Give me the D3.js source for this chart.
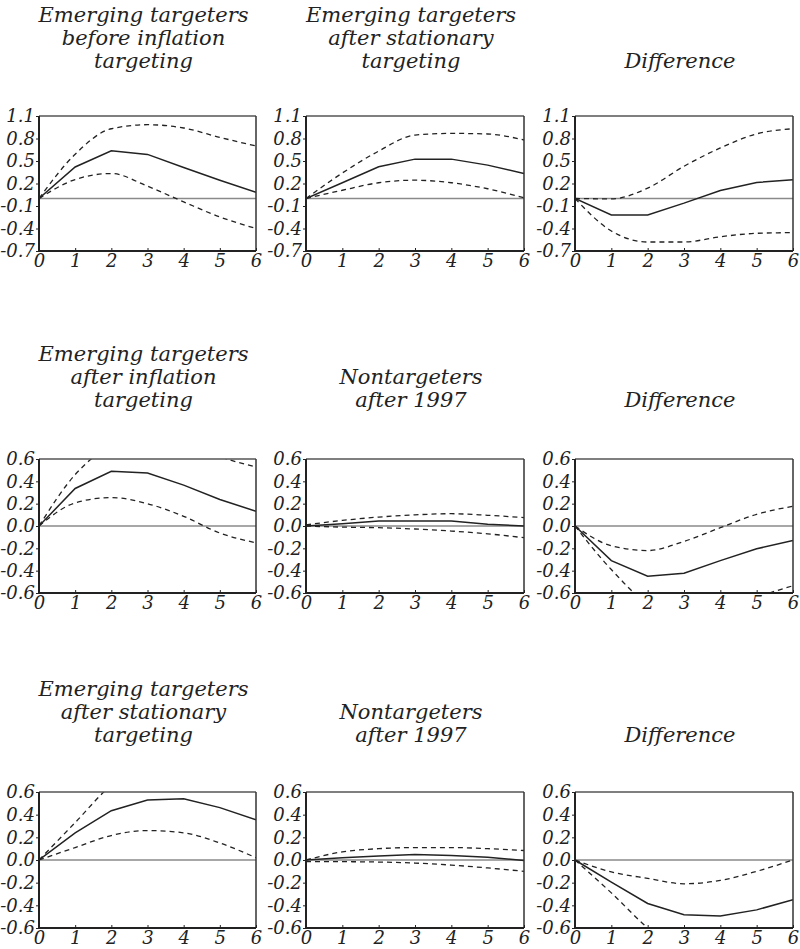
<!DOCTYPE html>
<html><head><meta charset="utf-8">
<script src="https://cdn.jsdelivr.net/npm/d3@7"></script>
<style>
body{margin:0;background:#fff;}
svg text{font-family:"DejaVu Serif",serif;font-style:italic;fill:#222;}
</style></head>
<body><svg id="c" width="800" height="949"></svg>
<script>
// ---- data ----
const horizons = [0,1,2,3,4,5,6];
const xTickLabels = ["0","1","2","3","4","5","6"];
const yTicksTop = [-0.7,-0.4,-0.1,0.2,0.5,0.8,1.1];
const yTicksLower = [-0.6,-0.4,-0.2,0.0,0.2,0.4,0.6];

const titlesRow1 = [["Emerging targeters","before inflation","targeting"],["Emerging targeters","after stationary","targeting"],["Difference"]];
const titlesRow2 = [["Emerging targeters","after inflation","targeting"],["Nontargeters","after 1997"],["Difference"]];
const titlesRow3 = [["Emerging targeters","after stationary","targeting"],["Nontargeters","after 1997"],["Difference"]];

// row 1
const r1a_mid = [0,0.42,0.637,0.588,0.414,0.244,0.084];
const r1a_up  = [0,0.59,0.93,0.984,0.94,0.815,0.70];
const r1a_lo  = [0,0.253,0.333,0.164,-0.045,-0.246,-0.40];
const r1b_mid = [0,0.21,0.423,0.525,0.525,0.445,0.334];
const r1b_up  = [0,0.34,0.632,0.846,0.868,0.86,0.78];
const r1b_lo  = [0,0.11,0.21,0.244,0.21,0.13,0.01];
const r1c_mid = [0,-0.219,-0.219,-0.062,0.107,0.214,0.25];
const r1c_up  = [0,-0.005,0.138,0.43,0.674,0.862,0.93];
const r1c_lo  = [0,-0.433,-0.58,-0.58,-0.51,-0.464,-0.455];
// row 2
const r2a_mid = [0,0.336,0.49,0.474,0.366,0.237,0.132];
const r2a_up  = [0,0.46,0.72,0.80,0.75,0.62,0.53];
const r2a_lo  = [0,0.207,0.255,0.20,0.087,-0.063,-0.15];
const r2b_mid = [0,0.02,0.045,0.045,0.045,0.015,0];
const r2b_up  = [0.01,0.05,0.08,0.10,0.11,0.096,0.075];
const r2b_lo  = [0,-0.01,-0.015,-0.027,-0.045,-0.07,-0.105];
const r2c_mid = [0,-0.31,-0.45,-0.423,-0.31,-0.204,-0.13];
const r2c_up  = [0,-0.177,-0.22,-0.138,-0.015,0.105,0.177];
const r2c_lo  = [0,-0.39,-0.69,-0.78,-0.78,-0.64,-0.535];
// row 3
const r3a_mid = [0,0.24,0.435,0.53,0.54,0.462,0.354];
const r3a_up  = [0,0.33,0.66,0.85,0.90,0.85,0.75];
const r3a_lo  = [0,0.11,0.216,0.26,0.24,0.15,0.02];
const r3b_mid = [0,0.02,0.036,0.048,0.04,0.024,-0.005];
const r3b_up  = [0,0.072,0.10,0.11,0.11,0.10,0.084];
const r3b_lo  = [-0.015,-0.015,-0.018,-0.027,-0.045,-0.07,-0.10];
const r3c_mid = [0,-0.195,-0.384,-0.483,-0.495,-0.44,-0.35];
const r3c_up  = [0,-0.105,-0.162,-0.21,-0.18,-0.10,0];
const r3c_lo  = [0,-0.29,-0.60,-0.85,-0.95,-0.90,-0.80];

// ---- layout ----
const svg = d3.select("#c");
const colX = [[39,256],[306,524],[575,793]];
const rows = [
  {top:116,bottom:251,dom:[-0.7,1.1],ticks:yTicksTop,titles:titlesRow1,titleBase:68,series:[[r1a_mid,r1a_up,r1a_lo],[r1b_mid,r1b_up,r1b_lo],[r1c_mid,r1c_up,r1c_lo]]},
  {top:459,bottom:593,dom:[-0.6,0.6],ticks:yTicksLower,titles:titlesRow2,titleBase:407,series:[[r2a_mid,r2a_up,r2a_lo],[r2b_mid,r2b_up,r2b_lo],[r2c_mid,r2c_up,r2c_lo]]},
  {top:792,bottom:928,dom:[-0.6,0.6],ticks:yTicksLower,titles:titlesRow3,titleBase:742,series:[[r3a_mid,r3a_up,r3a_lo],[r3b_mid,r3b_up,r3b_lo],[r3c_mid,r3c_up,r3c_lo]]}
];

let clipId = 0;
rows.forEach(row => {
  colX.forEach((cx, ci) => {
    const x = d3.scaleLinear().domain([0,6]).range(cx);
    const y = d3.scaleLinear().domain(row.dom).range([row.bottom,row.top]);
    const g = svg.append("g");
    // title
    const lines = row.titles[ci];
    const tcx = (cx[0]+cx[1])/2 - 4;
    lines.forEach((t,i) => {
      g.append("text").attr("x",tcx).attr("y",row.titleBase - (lines.length-1-i)*23)
        .attr("text-anchor","middle").attr("font-size",21).style("font-style","italic").text(t);
    });
    // clip
    const id = "clip"+(clipId++);
    svg.append("clipPath").attr("id",id).append("rect")
      .attr("x",cx[0]).attr("y",row.top).attr("width",cx[1]-cx[0]).attr("height",row.bottom-row.top);
    // zero line
    g.append("line").attr("x1",cx[0]).attr("x2",cx[1]).attr("y1",y(0)).attr("y2",y(0))
      .attr("stroke","#8a8a8a").attr("stroke-width",1.6);
    // series
    const [mid,up,lo] = row.series[ci];
    const line = d3.line().x((d,i)=>x(horizons[i])).y(d=>y(d));
    const dline = d3.line().x((d,i)=>x(horizons[i])).y(d=>y(d)).curve(d3.curveMonotoneX);
    const pg = g.append("g").attr("clip-path",`url(#${id})`);
    [up,lo].forEach(s => pg.append("path").attr("d",dline(s)).attr("fill","none")
      .attr("stroke","#222").attr("stroke-width",1.3).attr("stroke-dasharray","5,4"));
    pg.append("path").attr("d",line(mid)).attr("fill","none").attr("stroke","#222").attr("stroke-width",1.5);
    // frame
    g.append("line").attr("x1",cx[0]).attr("x2",cx[1]).attr("y1",row.top).attr("y2",row.top).attr("stroke","#555").attr("stroke-width",1.5);
    g.append("line").attr("x1",cx[1]).attr("x2",cx[1]).attr("y1",row.top).attr("y2",row.bottom).attr("stroke","#333").attr("stroke-width",1.5);
    // axes
    const ya = d3.axisLeft(y).tickValues(row.ticks).tickSize(3).tickPadding(1).tickFormat(v=>v.toFixed(1));
    const yg = g.append("g").attr("transform",`translate(${cx[0]},0)`).call(ya);
    const xa = d3.axisBottom(x).tickValues(horizons).tickSize(-3).tickPadding(6).tickFormat((d,i)=>xTickLabels[i]);
    const xg = g.append("g").attr("transform",`translate(0,${row.bottom})`).call(xa);
    [yg,xg].forEach(a => {
      a.attr("font-family","DejaVu Serif").attr("font-size",18);
      a.select(".domain").attr("stroke","#222").attr("stroke-width",2);
      a.selectAll(".tick line").attr("stroke","#222");
      a.selectAll("text").attr("font-size",18).style("font-style","italic").attr("fill","#1a1a1a");
    });
    xg.selectAll("text").attr("dy","0.55em");
    yg.select(".domain").attr("d",`M0,${row.top}V${row.bottom}`);
    xg.select(".domain").attr("d",`M${cx[0]},0H${cx[1]}`);
  });
});
</script></body></html>
